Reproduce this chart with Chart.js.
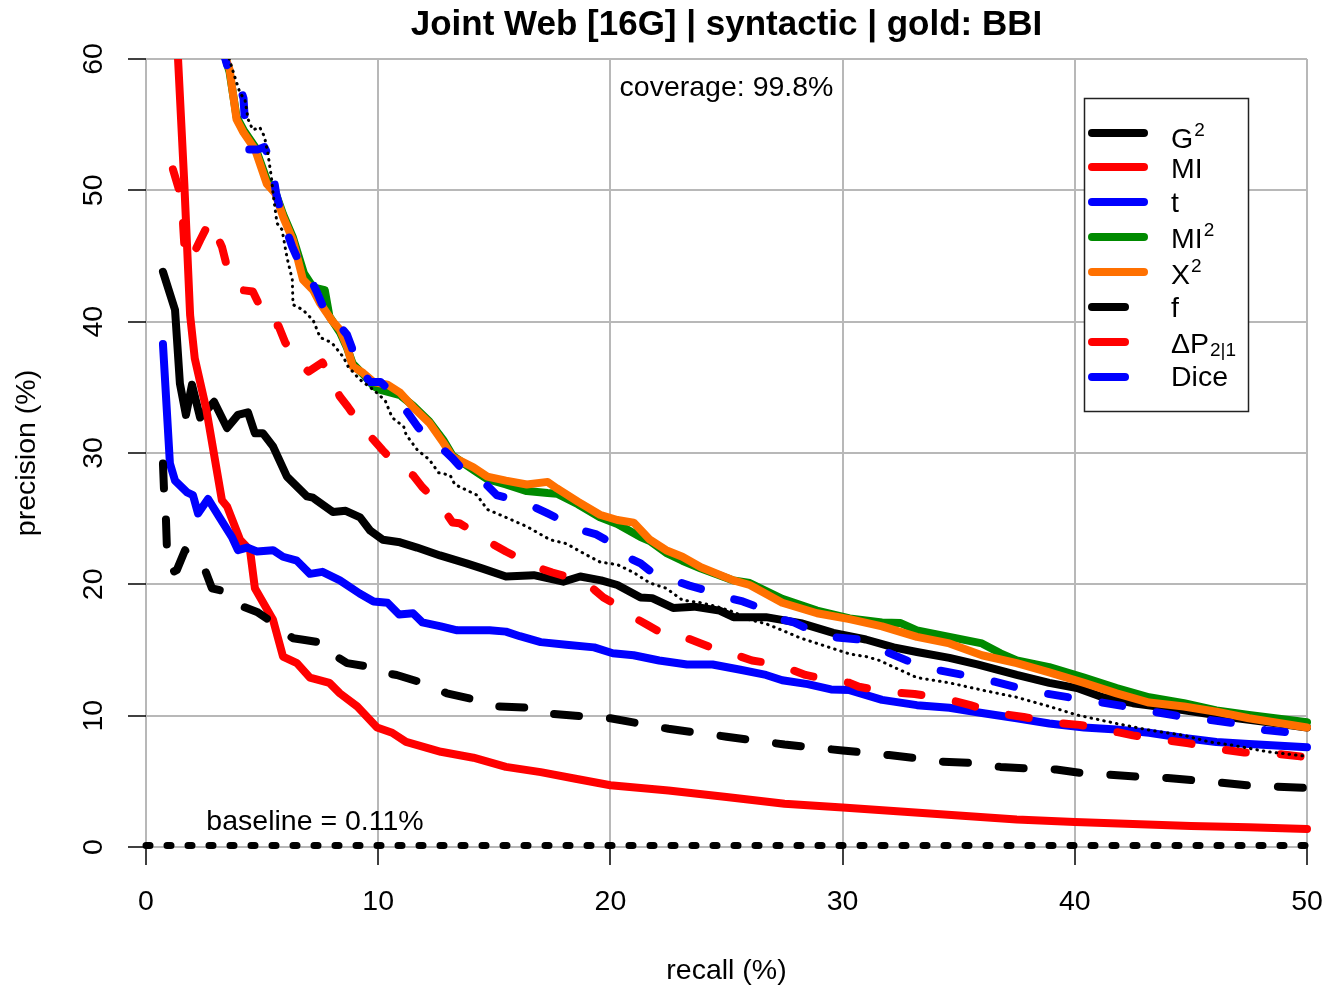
<!DOCTYPE html>
<html>
<head>
<meta charset="utf-8">
<title>Joint Web [16G] | syntactic | gold: BBI</title>
<script src="https://cdn.jsdelivr.net/npm/chart.js@4.4.1/dist/chart.umd.min.js"></script>
<style>
  html, body { margin: 0; padding: 0; background: #fff; }
  #wrap { width: 1324px; height: 986px; }
</style>
</head>
<body>
<div id="wrap"><canvas id="pr" width="1324" height="986"></canvas></div>
<script>
// precision (%) against recall (%) for each association measure: [recall, precision]
const g2 = [[0.73,43.8],[1.25,40.9],[1.46,35.3],[1.72,32.9],[1.98,35.2],[2.33,32.7],[2.93,33.9],[3.49,31.9],[3.96,32.9],[4.39,33.1],[4.69,31.5],[5.04,31.5],[5.47,30.5],[6.07,28.2],[6.93,26.7],[7.19,26.6],[8.05,25.5],[8.6,25.6],[9.22,25.1],[9.65,24.1],[10.2,23.4],[10.94,23.2],[11.67,22.8],[12.66,22.2],[13.8,21.6],[14.5,21.2],[15.5,20.6],[16.7,20.7],[17.97,20.2],[18.7,20.6],[19.6,20.3],[20.3,19.95],[21.3,19.0],[21.8,18.95],[22.7,18.2],[23.6,18.3],[24.7,18.0],[25.3,17.5],[26.7,17.5],[28.2,17.05],[29.6,16.3],[31.0,15.8],[32.2,15.2],[33.2,14.85],[34.6,14.4],[35.8,13.9],[37.5,13.1],[38.9,12.5],[40.1,12.1],[41.2,11.4],[42.5,10.95],[44.0,10.6],[45.5,10.2],[47.0,9.8],[48.5,9.45],[50,9.1]];
const mi = [[1.2,66],[1.38,60],[1.65,50.5],[1.9,40.5],[2.1,37.2],[2.6,33.3],[3.27,26.4],[3.5,25.9],[4.05,23.4],[4.48,22.6],[4.69,19.7],[5.47,17.3],[5.9,14.5],[6.5,14.0],[7.06,12.9],[7.9,12.5],[8.35,11.7],[9.1,10.7],[9.95,9.1],[10.6,8.7],[11.2,8.0],[12.7,7.25],[14.1,6.8],[15.5,6.1],[17.0,5.7],[18.5,5.2],[20,4.7],[22.5,4.3],[25,3.8],[27.5,3.3],[30,3.0],[32.5,2.7],[35,2.4],[37.5,2.1],[40,1.9],[42.5,1.75],[45,1.6],[47.5,1.5],[50,1.37]];
const tScore = [[0.73,38.3],[1.03,29.2],[1.25,27.9],[1.77,27.0],[2.02,26.8],[2.24,25.4],[2.67,26.5],[3.2,25.0],[3.7,23.6],[3.96,22.6],[4.35,22.8],[4.78,22.5],[5.47,22.6],[5.9,22.1],[6.5,21.8],[7.06,20.8],[7.6,20.95],[8.35,20.3],[9.2,19.3],[9.8,18.7],[10.4,18.6],[10.9,17.7],[11.5,17.8],[11.9,17.1],[12.7,16.8],[13.4,16.5],[14.8,16.5],[15.5,16.4],[16.1,16.05],[17.0,15.6],[18.1,15.4],[19.3,15.2],[20.1,14.75],[21.0,14.6],[22.1,14.2],[23.3,13.9],[24.4,13.9],[25.6,13.5],[26.7,13.1],[27.4,12.7],[28.5,12.4],[29.5,12.0],[30.3,11.95],[31.7,11.2],[33.2,10.8],[34.6,10.6],[36.0,10.2],[37.5,9.8],[38.9,9.4],[40.4,9.1],[41.8,8.95],[43.2,8.7],[44.7,8.3],[46.1,8.0],[47.5,7.85],[50,7.6]];
const mi2 = [[3.2,62],[3.4,60.2],[3.6,59.0],[3.9,55.6],[4.2,54.6],[4.7,53.3],[5.2,50.8],[5.56,49.9],[5.9,48.2],[6.33,46.4],[6.8,43.7],[7.2,42.6],[7.7,42.4],[7.9,40.4],[8.35,39.2],[8.66,38.0],[8.9,36.8],[9.35,36.0],[9.8,35.1],[10.1,34.8],[10.94,34.4],[11.5,33.6],[12.2,32.4],[12.8,31.0],[13.2,29.8],[14.1,28.7],[14.7,28.0],[15.5,27.6],[16.4,27.1],[17.3,26.95],[17.7,26.9],[18.6,26.1],[19.55,25.1],[20.3,24.6],[21.3,23.6],[21.7,23.3],[22.4,22.4],[23.1,21.8],[23.9,21.2],[25.3,20.3],[26.0,20.1],[27.4,18.9],[28.9,18.0],[30.3,17.4],[31.7,17.1],[32.5,17.05],[33.2,16.5],[34.6,16.0],[36.0,15.5],[36.8,14.75],[37.5,14.2],[38.9,13.7],[40.4,12.9],[41.8,12.1],[43.2,11.4],[44.7,10.95],[46.1,10.4],[47.5,10.05],[50,9.5]];
const x2 = [[3.2,62],[3.4,60.2],[3.6,59.2],[3.9,55.4],[4.2,54.4],[4.7,53.1],[5.2,50.5],[5.56,49.8],[5.9,48.0],[6.33,46.2],[6.76,43.2],[7.2,42.4],[7.5,41.4],[8.0,40.1],[8.35,39.4],[8.66,38.1],[8.9,36.6],[9.35,36.1],[9.8,35.4],[10.4,35.2],[10.94,34.6],[11.5,33.5],[12.2,32.3],[12.8,30.8],[13.2,29.7],[14.1,28.9],[14.7,28.2],[15.5,27.9],[16.4,27.6],[17.3,27.8],[17.7,27.3],[18.6,26.3],[19.55,25.3],[20.3,24.9],[21.0,24.7],[21.7,23.4],[22.4,22.6],[23.1,22.1],[23.9,21.3],[25.3,20.3],[26.0,19.95],[27.4,18.6],[28.9,17.8],[30.3,17.35],[31.7,16.8],[33.2,16.0],[34.6,15.5],[36.0,14.6],[37.5,14.0],[38.9,13.3],[40.4,12.5],[41.8,11.7],[43.2,11.0],[44.7,10.7],[46.1,10.3],[47.5,9.8],[50,9.1]];
const freq = [[0.73,29.2],[0.78,27.0],[0.86,24.9],[0.9,22.8],[1.12,20.9],[1.33,21.1],[1.68,22.6],[2.0,21.7],[2.24,21.5],[2.54,21.1],[2.84,19.7],[3.3,19.5],[3.83,19.0],[4.18,18.3],[4.78,17.9],[5.2,17.4],[5.64,16.7],[6.33,15.9],[6.7,15.8],[7.8,15.5],[8.2,14.5],[8.66,14.0],[9.7,13.7],[10.1,13.3],[10.8,13.1],[11.9,12.5],[12.96,11.7],[14.1,11.25],[15.2,10.7],[16.5,10.6],[17.0,10.2],[18.5,10.0],[20,9.8],[22.5,9.0],[25,8.4],[27.5,7.8],[30,7.35],[32,7.0],[33,6.8],[34.3,6.5],[35.5,6.4],[36.8,6.1],[37.8,6.0],[39.2,5.9],[40.2,5.65],[41.5,5.5],[42.7,5.35],[44,5.25],[45,5.1],[46.25,4.9],[47.4,4.7],[48.7,4.6],[50,4.5]];
const deltaP = [[1.16,51.6],[1.55,49.3],[1.6,47.3],[1.68,45.0],[1.9,44.6],[2.33,46.2],[2.76,47.7],[3.27,45.7],[3.5,44.1],[4.13,42.4],[4.6,42.3],[4.82,41.5],[5.43,39.6],[5.7,39.7],[6.0,38.4],[6.7,36.7],[7.0,36.2],[7.6,36.9],[8.05,35.3],[8.35,34.3],[8.7,33.5],[9.4,31.75],[9.8,31.0],[10.2,30.2],[11.0,28.7],[11.5,28.3],[11.9,27.4],[12.7,26.0],[13.2,24.7],[13.5,24.65],[14.5,23.6],[14.9,23.1],[15.5,22.5],[16.5,21.6],[17.0,21.2],[17.5,20.9],[18.7,20.3],[19.3,19.6],[19.7,19.0],[20.7,18.0],[21.1,17.4],[21.6,16.9],[22.6,15.9],[23.3,15.9],[23.9,15.5],[24.9,14.8],[25.6,14.5],[26.1,14.2],[27.2,13.9],[28.4,13.1],[29.5,12.7],[30.3,12.5],[30.7,12.2],[31.9,11.8],[33.1,11.65],[34.3,11.35],[35.5,10.8],[36.6,10.2],[37.8,9.9],[38.9,9.5],[40.2,9.3],[41.4,8.9],[42.5,8.5],[43.8,8.15],[44.9,7.9],[46.0,7.5],[47.3,7.2],[48.4,7.15],[49.7,6.9],[50,6.85]];
const dice = [[3.25,61],[3.5,59.5],[3.9,58.8],[4.2,57.0],[4.26,55.2],[4.44,53.1],[4.8,53.1],[5.1,53.3],[5.4,52.1],[5.6,49.8],[5.9,47.7],[6.3,45.7],[6.6,44.5],[6.85,44.1],[7.35,42.3],[7.8,40.4],[8.3,39.8],[8.66,39.0],[8.87,38.0],[9.0,36.9],[9.65,35.4],[10.1,35.4],[10.6,34.6],[11.3,33.0],[11.7,32.0],[12.0,31.4],[12.9,30.1],[13.2,29.6],[13.65,28.7],[14.6,27.7],[15.1,26.8],[15.5,26.6],[16.7,25.9],[17.3,25.4],[17.7,25.05],[18.8,24.1],[19.4,23.8],[19.9,23.3],[20.8,22.0],[21.3,21.6],[21.8,20.9],[22.9,20.2],[23.4,19.9],[24.0,19.6],[25.1,18.95],[25.7,18.7],[26.3,18.3],[27.2,17.4],[27.9,17.1],[28.4,16.7],[29.5,16.0],[30.7,15.8],[31.7,15.0],[32.9,14.1],[34.0,13.5],[35.2,13.1],[36.3,12.7],[37.6,12.1],[38.7,11.7],[39.9,11.35],[41.0,11.05],[42.2,10.7],[43.4,10.3],[44.7,9.9],[45.7,9.7],[47.0,9.4],[48.2,8.9],[49.4,8.7],[50,8.5]];
// reference curve (thin dotted, not in the legend)
const refCurve = [[3.5,60.5],[3.83,58.6],[4.05,57.4],[4.26,56.9],[4.4,55.4],[4.6,54.6],[4.9,54.8],[5.1,54.1],[5.25,52.8],[5.4,51.0],[5.47,49.8],[5.64,47.5],[5.86,47.0],[6.07,44.9],[6.3,43.2],[6.33,41.3],[6.76,40.9],[7.2,40.1],[7.5,38.8],[8.0,38.4],[8.5,37.3],[8.7,36.6],[9.2,35.6],[9.8,34.8],[10.3,34.0],[10.6,32.7],[11.1,32.0],[11.2,31.4],[11.7,30.2],[12.2,29.5],[12.6,28.5],[13.1,28.3],[13.3,27.6],[14.25,26.8],[14.7,25.7],[15.5,25.1],[16.4,24.4],[17.4,23.4],[18.1,23.1],[18.7,22.5],[19.55,21.7],[20.3,21.5],[21.0,20.9],[21.7,20.1],[22.4,19.7],[23.1,18.8],[23.9,18.6],[24.6,18.3],[25.3,17.9],[26.0,17.3],[26.7,17.0],[27.4,16.5],[28.2,15.9],[28.9,15.5],[29.6,15.1],[30.3,14.7],[31.0,14.5],[31.6,14.2],[32.2,13.7],[33.2,12.9],[34.6,12.5],[36.0,11.95],[37.5,11.4],[38.9,10.7],[40.1,10.05],[41.8,9.4],[43.2,8.9],[44.7,8.5],[45.8,8.0],[46.8,7.75],[48.3,7.25],[50,6.9]];

const baselinePrec = 0.11;
const coverage = 99.8;
const xTicks = [0, 10, 20, 30, 40, 50];
const yTicks = [0, 10, 20, 30, 40, 50, 60];
const titleText = 'Joint Web [16G] | syntactic | gold: BBI';

const FONT = '"Liberation Sans", Arial, Helvetica, sans-serif';
const DASH = [20, 35];

// drawing style per curve, in plotting order (later ones end up on top)
const series = [
  { data: g2,       color: '#000000', dash: [],       label: ['G', '2', ''] },
  { data: mi,       color: '#ff0000', dash: [],       label: ['MI', '', ''] },
  { data: tScore,   color: '#0000ff', dash: [],       label: ['t', '', ''] },
  { data: mi2,      color: '#008a00', dash: [],       label: ['MI', '2', ''] },
  { data: x2,       color: '#ff7000', dash: [],       label: ['X', '2', ''] },
  { data: freq,     color: '#000000', dash: [25, 31], label: ['f', '', ''] },
  { data: deltaP,   color: '#ff0000', dash: DASH,     label: ['\u0394P', '', '2|1'] },
  { data: dice,     color: '#0000ff', dash: DASH,     label: ['Dice', '', ''] },
];

const toXY = arr => arr.map(([r, p]) => ({ x: r, y: p }));
const clipArea = { left: 10, top: 0, right: 10, bottom: 10 };

const datasets = series.map((s, i) => ({
  data: toXY(s.data),
  borderColor: s.color,
  borderWidth: 8,
  borderDash: s.dash,
  borderCapStyle: 'round',
  borderJoinStyle: 'round',
  pointRadius: 0,
  tension: 0,
  fill: false,
  clip: clipArea,
  order: 20 - i,
}));

datasets.push({
  data: toXY(refCurve),
  borderColor: '#000000',
  borderWidth: 3,
  borderDash: [0.5, 6],
  borderCapStyle: 'round',
  pointRadius: 0,
  fill: false,
  clip: clipArea,
  order: 11,
});

datasets.push({
  data: toXY([[0, baselinePrec], [50, baselinePrec]]),
  borderColor: '#000000',
  borderWidth: 7,
  borderDash: [4, 17],
  borderCapStyle: 'round',
  pointRadius: 0,
  fill: false,
  clip: clipArea,
  order: 1,
});

// one legend row: base text with optional superscript / subscript
function drawLabel(ctx, parts, x, y) {
  const [base, sup, sub] = parts;
  ctx.font = '28.5px ' + FONT;
  ctx.fillText(base, x, y);
  const w = ctx.measureText(base).width;
  ctx.font = '19px ' + FONT;
  if (sup) ctx.fillText(sup, x + w + 1, y - 12);
  if (sub) ctx.fillText(sub, x + w + 1, y + 3);
}

const annotations = {
  id: 'annotations',
  afterDraw(chart) {
    const { ctx, chartArea, scales } = chart;
    const mid = (chartArea.left + chartArea.right) / 2;
    ctx.save();
    ctx.fillStyle = '#000';
    ctx.textBaseline = 'alphabetic';
    ctx.textAlign = 'center';

    ctx.font = 'bold 35px ' + FONT;
    ctx.fillText(titleText, mid, 35);

    ctx.font = '28.5px ' + FONT;
    ctx.fillText('coverage: ' + coverage + '%', mid, 96);
    ctx.fillText('baseline = ' + baselinePrec + '%', scales.x.getPixelForValue(7.28), 830);
    ctx.fillText('recall (%)', mid, 979);

    ctx.save();
    ctx.translate(35, (chartArea.top + chartArea.bottom) / 2);
    ctx.rotate(-Math.PI / 2);
    ctx.fillText('precision (%)', 0, 0);
    ctx.restore();

    // legend box
    const bx = 1084, by = 98, bw = 164, bh = 313;
    ctx.fillStyle = '#fff';
    ctx.fillRect(bx, by, bw, bh);
    ctx.strokeStyle = '#222';
    ctx.lineWidth = 1.5;
    ctx.strokeRect(bx + 0.5, by + 0.5, bw, bh);

    const rowY = [133, 167, 202, 237, 272, 307, 342, 377];
    const textDy = [15, 11, 10, 11, 12, 10, 11, 9];
    ctx.textAlign = 'left';
    series.forEach((s, i) => {
      const y = rowY[i];
      ctx.strokeStyle = s.color;
      ctx.lineWidth = 8;
      ctx.lineCap = 'round';
      ctx.setLineDash([]);
      ctx.beginPath();
      ctx.moveTo(1092, y);
      ctx.lineTo(s.dash.length ? 1125 : 1144, y);
      ctx.stroke();
      ctx.fillStyle = '#000';
      drawLabel(ctx, s.label, 1171, y + textDy[i]);
    });
    ctx.restore();
  }
};

const tickFont = { family: FONT, size: 28.5 };

// fixed axis band sizes; end-label padding comes from layout.padding instead
const fixBand = size => s => {
  if (s.isHorizontal()) s.height = size; else s.width = size;
  s.paddingLeft = 0;
  s.paddingRight = 0;
  s.paddingTop = 0;
  s.paddingBottom = 0;
};

new Chart(document.getElementById('pr'), {
  type: 'line',
  data: { datasets },
  options: {
    responsive: false,
    animation: false,
    devicePixelRatio: 1,
    layout: { padding: { top: 59, right: 17, left: 0, bottom: 0 } },
    plugins: { legend: { display: false }, tooltip: { enabled: false }, title: { display: false } },
    scales: {
      x: {
        type: 'linear',
        min: 0,
        max: 50,
        afterBuildTicks: s => { s.ticks = xTicks.map(v => ({ value: v })); },
        afterFit: fixBand(139),
        ticks: { font: tickFont, color: '#000', padding: 20, maxRotation: 0 },
        grid: { color: '#b8b8b8', lineWidth: 2, tickColor: '#000', tickLength: 18, tickWidth: 1.5 },
        border: { display: false },
      },
      y: {
        type: 'linear',
        min: 0,
        max: 60,
        afterBuildTicks: s => { s.ticks = yTicks.map(v => ({ value: v })); },
        afterFit: fixBand(146),
        ticks: { font: tickFont, color: '#000', padding: 18, minRotation: 90, maxRotation: 90, crossAlign: 'center' },
        grid: { color: '#b8b8b8', lineWidth: 2, tickColor: '#000', tickLength: 18, tickWidth: 1.5 },
        border: { display: false },
      },
    },
  },
  plugins: [annotations],
});
</script>
</body>
</html>
